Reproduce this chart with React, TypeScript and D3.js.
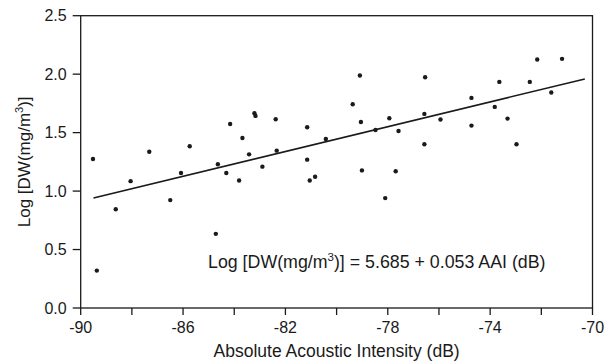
import React, { useEffect, useRef } from 'react';
import * as d3 from 'd3';

// acoustic intensity (dB) and log dry weight
const aai = [
  -89.52, -89.37, -88.63, -88.05, -87.32, -86.5, -86.08, -85.74, -84.72, -84.64,
  -84.31, -84.16, -83.81, -83.68, -83.42, -83.21, -83.17, -82.9, -82.38, -82.34,
  -81.15, -81.15, -81.05, -80.84, -80.42, -79.37, -79.09, -79.05, -79.01, -78.48,
  -78.1, -77.94, -77.69, -77.58, -76.57, -76.57, -76.54, -75.94, -74.73, -74.73,
  -73.82, -73.64, -73.32, -72.97, -72.45, -72.16, -71.61, -71.19,
];
const logDW = [
  1.274, 0.32, 0.845, 1.085, 1.337, 0.923, 1.154, 1.383, 0.634, 1.229,
  1.154, 1.574, 1.091, 1.454, 1.314, 1.666, 1.643, 1.209, 1.614, 1.346,
  1.546, 1.269, 1.091, 1.123, 1.446, 1.743, 1.989, 1.591, 1.177, 1.523,
  0.94, 1.623, 1.169, 1.514, 1.4, 1.66, 1.974, 1.612, 1.797, 1.56,
  1.72, 1.934, 1.62, 1.4, 1.934, 2.126, 1.843, 2.131,
];
const fitIntercept = 5.685;
const fitSlope = 0.053;
const fitRange = [-89.5, -70.3];
const xTicks = [-90, -86, -82, -78, -74, -70];
const xMinorTicks = [-88, -84, -80, -76, -72];
const yTicks = [0, 0.5, 1.0, 1.5, 2.0, 2.5];

const ScatterChart = () => {
  const chartRef = useRef<SVGSVGElement>(null);

  useEffect(() => {
    document.body.style.margin = '0';
    document.body.style.overflow = 'hidden';

    const svg = d3.select(chartRef.current);
    svg.selectAll('*').remove();
    const width = 613;
    const height = 363;
    const margin = { top: 15.7, right: 20.5, bottom: 55, left: 80.7 };
    const ink = '#1a1a1a';
    const font = 'Liberation Sans, Arial, sans-serif';

    const x = d3.scaleLinear().domain([-90, -70]).range([margin.left, width - margin.right]);
    const y = d3.scaleLinear().domain([0, 2.5]).range([height - margin.bottom, margin.top]);

    // frame
    svg
      .append('rect')
      .attr('x', x(-90))
      .attr('y', y(2.5))
      .attr('width', x(-70) - x(-90))
      .attr('height', y(0) - y(2.5))
      .attr('fill', 'none')
      .attr('stroke', ink)
      .attr('stroke-width', 1.3);

    const xAxis = svg.append('g').attr('transform', `translate(0,${y(0)})`);
    xAxis
      .selectAll('line')
      .data([...xTicks, ...xMinorTicks])
      .join('line')
      .attr('x1', d => x(d))
      .attr('x2', d => x(d))
      .attr('y1', 0)
      .attr('y2', 7)
      .attr('stroke', ink)
      .attr('stroke-width', 1.3);
    xAxis
      .selectAll('text')
      .data(xTicks)
      .join('text')
      .attr('x', d => x(d))
      .attr('y', 24.7)
      .attr('text-anchor', 'middle')
      .attr('font-family', font)
      .attr('font-size', 16)
      .attr('fill', ink)
      .text(d => String(d));

    const yAxis = svg.append('g').attr('transform', `translate(${x(-90)},0)`);
    yAxis
      .selectAll('line')
      .data(yTicks)
      .join('line')
      .attr('x1', -8)
      .attr('x2', 0)
      .attr('y1', d => y(d))
      .attr('y2', d => y(d))
      .attr('stroke', ink)
      .attr('stroke-width', 1.3);
    yAxis
      .selectAll('text')
      .data(yTicks)
      .join('text')
      .attr('x', -14)
      .attr('y', d => y(d))
      .attr('dy', '0.36em')
      .attr('text-anchor', 'end')
      .attr('font-family', font)
      .attr('font-size', 16)
      .attr('fill', ink)
      .text(d => d3.format('.1f')(d));

    // regression line
    const line = d3
      .line<number>()
      .x(d => x(d))
      .y(d => y(fitIntercept + fitSlope * d));
    svg
      .append('path')
      .datum(fitRange)
      .attr('fill', 'none')
      .attr('stroke', ink)
      .attr('stroke-width', 1.6)
      .attr('d', line);

    svg
      .append('g')
      .selectAll('circle')
      .data(aai.map((v, i) => [v, logDW[i]]))
      .join('circle')
      .attr('cx', d => x(d[0]))
      .attr('cy', d => y(d[1]))
      .attr('r', 2.2)
      .attr('fill', ink);

    // axis titles
    svg
      .append('text')
      .attr('x', (x(-90) + x(-70)) / 2)
      .attr('y', 357.3)
      .attr('text-anchor', 'middle')
      .attr('font-family', font)
      .attr('font-size', 17.5)
      .attr('fill', ink)
      .text('Absolute Acoustic Intensity (dB)');

    const yTitle = svg
      .append('text')
      .attr('transform', `translate(30,${(y(0) + y(2.5)) / 2}) rotate(-90)`)
      .attr('text-anchor', 'middle')
      .attr('font-family', font)
      .attr('font-size', 17)
      .attr('fill', ink);
    yTitle.append('tspan').text('Log [DW(mg/m');
    yTitle.append('tspan').attr('font-size', 11).attr('dy', -7).text('3');
    yTitle.append('tspan').attr('dy', 7).text(')]');

    const eq = svg
      .append('text')
      .attr('x', 208)
      .attr('y', 268)
      .attr('font-family', font)
      .attr('font-size', 17.8)
      .attr('fill', ink);
    eq.append('tspan').text('Log [DW(mg/m');
    eq.append('tspan').attr('font-size', 11.5).attr('dy', -7).text('3');
    eq.append('tspan').attr('dy', 7).text(')] = 5.685 + 0.053 AAI (dB)');
  }, []);

  return <svg ref={chartRef} width={613} height={363} style={{ display: 'block' }}></svg>;
};

export default function App() {
  return <ScatterChart />;
}
